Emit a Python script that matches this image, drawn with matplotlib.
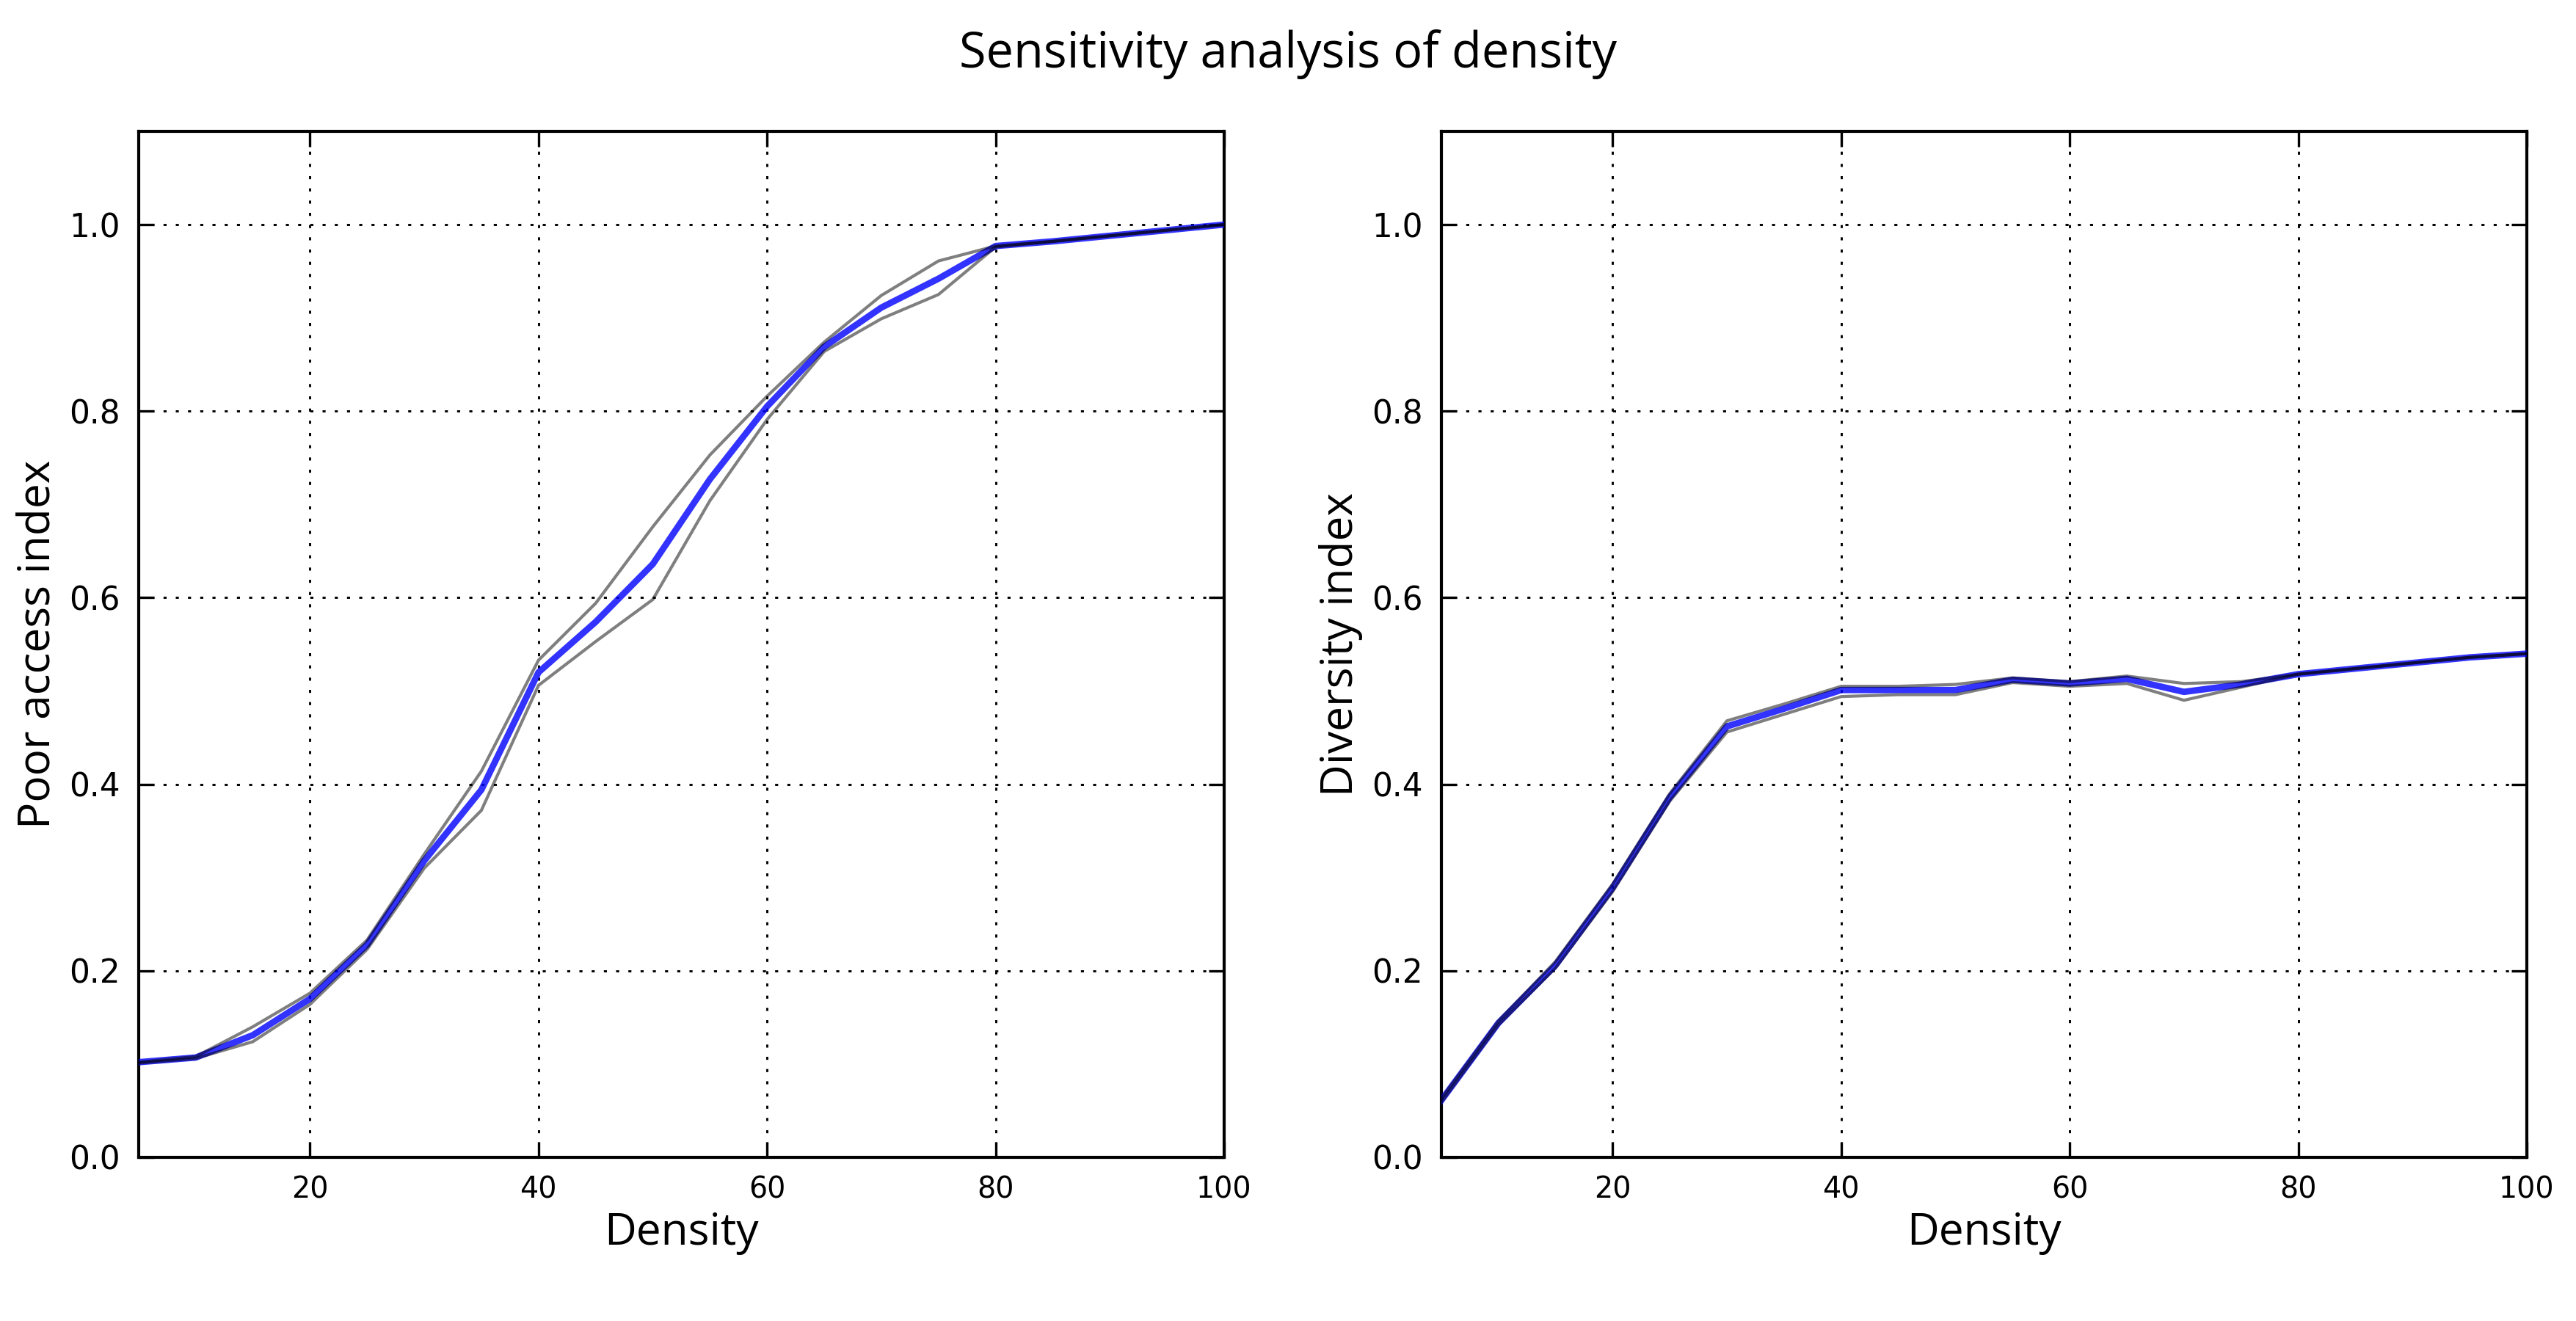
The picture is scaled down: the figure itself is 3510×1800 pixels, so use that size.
import matplotlib
matplotlib.use("Agg")
import matplotlib.pyplot as plt

# density steps used in the sensitivity runs
density = [5, 10, 15, 20, 25, 30, 35, 40, 45, 50, 55, 60, 65, 70, 75, 80, 85, 90, 95, 100]

access_mean = [0.102, 0.107, 0.131, 0.170, 0.228, 0.318, 0.394, 0.520, 0.574, 0.636,
               0.727, 0.805, 0.869, 0.911, 0.942, 0.977, 0.982, 0.988, 0.994, 1.000]
access_upper = [0.102, 0.108, 0.140, 0.176, 0.233, 0.325, 0.414, 0.533, 0.594, 0.676,
                0.753, 0.816, 0.874, 0.924, 0.961, 0.977, 0.982, 0.988, 0.994, 1.000]
access_lower = [0.101, 0.106, 0.124, 0.164, 0.223, 0.310, 0.372, 0.506, 0.553, 0.598,
                0.704, 0.791, 0.864, 0.899, 0.925, 0.976, 0.982, 0.988, 0.994, 1.000]

div_mean = [0.061, 0.144, 0.206, 0.289, 0.386, 0.462, 0.481, 0.501, 0.501, 0.501,
            0.512, 0.508, 0.513, 0.499, 0.507, 0.518, 0.524, 0.530, 0.536, 0.540]
div_upper = [0.063, 0.146, 0.210, 0.293, 0.390, 0.468, 0.486, 0.505, 0.505, 0.507,
             0.514, 0.510, 0.516, 0.508, 0.510, 0.518, 0.524, 0.530, 0.536, 0.540]
div_lower = [0.059, 0.142, 0.203, 0.285, 0.382, 0.456, 0.475, 0.494, 0.496, 0.496,
             0.509, 0.505, 0.508, 0.490, 0.504, 0.518, 0.524, 0.530, 0.536, 0.540]

x_ticks = [20, 40, 60, 80, 100]
y_ticks = [0.0, 0.2, 0.4, 0.6, 0.8, 1.0]

plt.rcParams["lines.scale_dashes"] = False
label_font = "Open Sans"

fig = plt.figure(figsize=(11.7, 6.0), dpi=300)
ax_left = fig.add_axes([0.0538, 0.1239, 0.4214, 0.7767])
ax_right = fig.add_axes([0.5595, 0.1239, 0.4214, 0.7767])

panels = [
    (ax_left, access_mean, access_upper, access_lower, "Poor access index"),
    (ax_right, div_mean, div_upper, div_lower, "Diversity index"),
]
for ax, mean, upper, lower, ylabel in panels:
    ax.plot(density, mean, color="b", alpha=0.8, lw=2.1, zorder=3)
    ax.plot(density, upper, color="k", alpha=0.5, lw=1.0, zorder=4)
    ax.plot(density, lower, color="k", alpha=0.5, lw=1.0, zorder=4)
    ax.set_xlim(5, 100)
    ax.set_ylim(0, 1.1)
    ax.set_xticks(x_ticks)
    ax.set_yticks(y_ticks)
    ax.set_yticklabels(["%.1f" % v for v in y_ticks])
    ax.grid(True, color="black", linestyle=(0, (1, 3)), lw=0.7)
    ax.tick_params(direction="in", length=5, width=0.8, top=True, right=True)
    ax.tick_params(axis="x", labelsize=9.5, pad=6)
    ax.tick_params(axis="y", labelsize=10.5, pad=6)
    for sp in ax.spines.values():
        sp.set_linewidth(1.0)
    ax.set_xlabel("Density", fontsize=14.5, family=label_font, labelpad=2)
    ax.set_ylabel(ylabel, fontsize=14.5, family=label_font, labelpad=3)

fig.suptitle("Sensitivity analysis of density", fontsize=16, family=label_font, y=0.978)
fig.savefig("out.png", dpi=300)
plt.close(fig)
